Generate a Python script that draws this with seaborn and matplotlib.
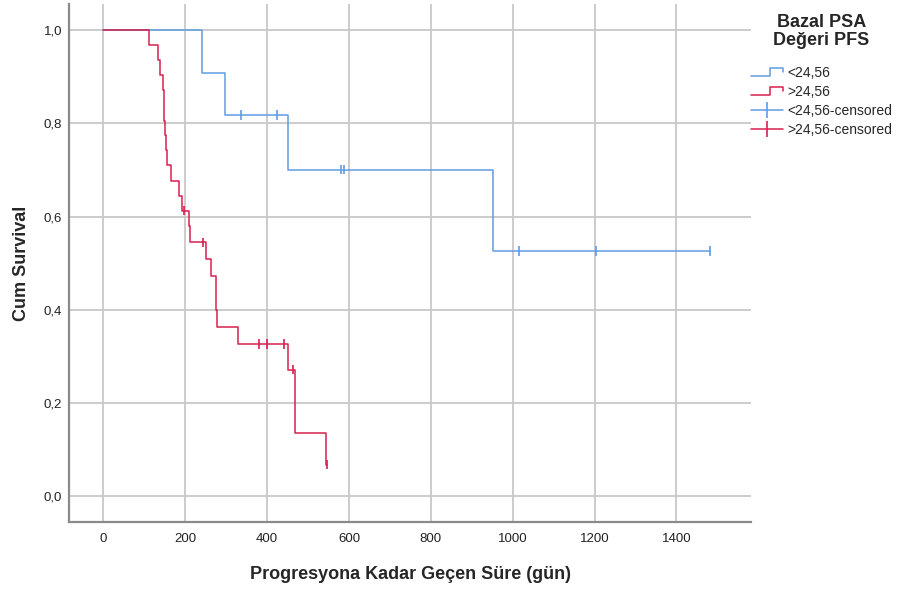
import matplotlib
matplotlib.use("Agg")
import matplotlib.pyplot as plt
from matplotlib.lines import Line2D
from matplotlib.legend_handler import HandlerBase
import seaborn as sns
import pandas as pd

# ---- data ----
groups = ["<24,56", ">24,56"]

low_times = [0, 240, 296, 452, 951]
low_surv = [1.0, 0.909, 0.818, 0.701, 0.526]
low_cens_times = [335, 425, 580, 587, 1015, 1203, 1482]
low_cens_surv = [0.818, 0.818, 0.701, 0.701, 0.526, 0.526, 0.526]

high_times = [0, 112, 133, 139, 145, 147, 150, 153, 156, 164, 184, 191, 209, 211,
              251, 264, 276, 278, 329, 451, 467, 469, 544]
high_surv = [1.0, 0.968, 0.935, 0.903, 0.871, 0.806, 0.774, 0.742, 0.710, 0.677,
             0.645, 0.613, 0.579, 0.545, 0.509, 0.472, 0.400, 0.363, 0.327, 0.272,
             0.204, 0.136, 0.068]
high_cens_times = [196, 243, 380, 399, 442, 463, 547]
high_cens_surv = [0.613, 0.545, 0.327, 0.327, 0.327, 0.272, 0.068]

x_ticks = [0, 200, 400, 600, 800, 1000, 1200, 1400]
y_ticks = [0.0, 0.2, 0.4, 0.6, 0.8, 1.0]
y_tick_labels = ["0,0", "0,2", "0,4", "0,6", "0,8", "1,0"]

legend_title = "Bazal PSA\nDeğeri PFS"
legend_labels = ["<24,56", ">24,56", "<24,56-censored", ">24,56-censored"]
x_label = "Progresyona Kadar Geçen Süre (gün)"
y_label = "Cum Survival"

colors = {"<24,56": "#5f9de6", ">24,56": "#d72050"}

# ---- build tables ----
def steps(times, surv, cens_times, name):
    t = list(times) + [max(cens_times + times)]
    s = list(surv) + [surv[-1]]
    return pd.DataFrame({"time": t, "surv": s, "group": name})

curves = pd.concat([
    steps(low_times, low_surv, low_cens_times, groups[0]),
    steps(high_times, high_surv, high_cens_times, groups[1]),
], ignore_index=True)

cens = pd.concat([
    pd.DataFrame({"time": low_cens_times, "surv": low_cens_surv, "group": groups[0]}),
    pd.DataFrame({"time": high_cens_times, "surv": high_cens_surv, "group": groups[1]}),
], ignore_index=True)

# ---- plot ----
sns.set_style("white")
plt.rcParams["font.family"] = ["Liberation Sans", "DejaVu Sans"]

fig = plt.figure(figsize=(9.05, 5.91), dpi=100)
ax = fig.add_axes([69 / 905, 1 - 522 / 591, (751 - 69) / 905, (522 - 4) / 591])

ax.grid(True, color="#c8c8c8", linewidth=1.3, zorder=0)
ax.set_axisbelow(True)

sns.lineplot(data=curves, x="time", y="surv", hue="group", palette=colors,
             drawstyle="steps-post", estimator=None, sort=False, linewidth=1.1,
             legend=False, ax=ax, zorder=3)
sns.scatterplot(data=cens, x="time", y="surv", hue="group", palette=colors,
                marker="|", s=45, linewidth=1.2, legend=False, ax=ax, zorder=4)

ax.set_xlim(-84, 1582)
ax.set_ylim(-0.055, 1.056)
ax.set_xticks(x_ticks)
ax.set_xticklabels([str(v) for v in x_ticks])
ax.set_yticks(y_ticks)
ax.set_yticklabels(y_tick_labels)
ax.tick_params(axis="both", length=0, labelsize=9.5, colors="#222222")
ax.tick_params(axis="x", pad=8)
ax.tick_params(axis="y", pad=5)

for side in ["top", "right"]:
    ax.spines[side].set_visible(False)
for side in ["left", "bottom"]:
    ax.spines[side].set_color("#8a8a8a")
    ax.spines[side].set_linewidth(1.6)

ax.set_xlabel(x_label, fontsize=13, fontweight="bold", labelpad=15)
ax.set_ylabel(y_label, fontsize=13, fontweight="bold", labelpad=10)


class StepHandler(HandlerBase):
    def create_artists(self, legend, orig_handle, xdescent, ydescent,
                       width, height, fontsize, trans):
        x0 = -xdescent
        y0 = -ydescent
        xs = [x0, x0 + width * 0.6, x0 + width * 0.6, x0 + width, x0 + width]
        ys = [y0 + height * 0.1, y0 + height * 0.1, y0 + height * 0.9,
              y0 + height * 0.9, y0 + height * 0.55]
        ln = Line2D(xs, ys, color=orig_handle.get_color(), linewidth=1.1)
        ln.set_transform(trans)
        return [ln]


h_low = Line2D([], [], color=colors[groups[0]])
h_high = Line2D([], [], color=colors[groups[1]])
h_low_c = Line2D([], [], color=colors[groups[0]], marker="|", markersize=11,
                 markeredgewidth=1.2, linewidth=1.1)
h_high_c = Line2D([], [], color=colors[groups[1]], marker="|", markersize=11,
                  markeredgewidth=1.2, linewidth=1.1)

leg = fig.legend([h_low, h_high, h_low_c, h_high_c], legend_labels,
                 handler_map={h_low: StepHandler(), h_high: StepHandler()},
                 loc="upper left", bbox_to_anchor=(748 / 905, 1 - 11 / 591),
                 frameon=False, fontsize=10, title=legend_title,
                 title_fontproperties={"weight": "bold", "size": 13},
                 handlelength=2.3, handletextpad=0.35, labelspacing=0.35,
                 numpoints=1, borderaxespad=0, borderpad=0.2)
leg._legend_box.align = "center"
leg._legend_box.sep = 12
leg.get_title().set_multialignment("center")
leg.get_title().set_linespacing(1.12)

fig.savefig("out.png", dpi=100)
